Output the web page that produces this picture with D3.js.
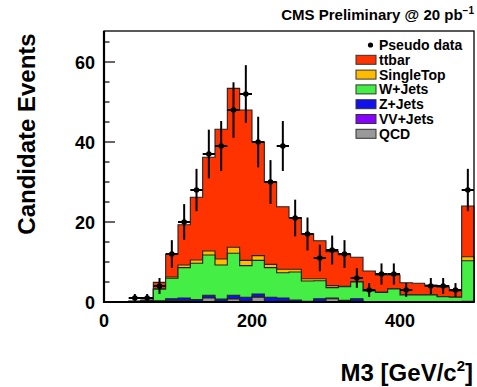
<!DOCTYPE html>
<html>
<head>
<meta charset="utf-8">
<script src="https://cdn.jsdelivr.net/npm/d3@7"></script>
<style>
  body { margin: 0; background: #fff; }
  text { font-family: "Liberation Sans", Arial, Helvetica, sans-serif; }
</style>
</head>
<body>
<div id="chart"></div>
<script>
// M3 distribution, 30 bins of 500/30 GeV, last bin holds overflow
const nBins = 30;
const xMax = 500;

const ttbar     = [0, 0, 0, 0, 1.6, 5.7, 10.05, 15.7, 23.45, 32.45, 39.7, 37.6, 28.4, 20.6, 15.6, 12.9, 11.2, 9.5, 8.5, 7.9, 6.1, 4.95, 4.3, 3.45, 3.0, 2.9, 2.45, 2.35, 1.5, 12.7];
const singleTop = [0, 0, 0, 0, 0.1, 0.3, 0.65, 0.8, 1.0, 1.5, 1.5, 1.3, 1.2, 0.8, 0.9, 0.7, 0.55, 0.5, 0.5, 0.1, 0.1, 0.05, 0.05, 0.05, 0.05, 0.05, 0.05, 0.05, 0.05, 1.0];
const wJets     = [0, 0, 0.2, 0.3, 2.9, 5.15, 7.6, 9.1, 10.05, 8.5, 10.5, 7.9, 8.4, 7.4, 6.3, 7.0, 5.1, 4.5, 2.6, 3.4, 4.2, 2.65, 2.3, 3.15, 1.7, 1.7, 1.7, 1.25, 1.15, 10.1];
const zJets     = [0, 0, 0, 0.1, 0.2, 0.45, 0.65, 0.5, 0.65, 0.55, 0.9, 0.95, 0.75, 1.05, 0.8, 0.4, 0.1, 0.65, 0.2, 0.3, 0.6, 0.1, 0.1, 0.1, 0.05, 0.05, 0.05, 0.05, 0.05, 0.15];
const vvJets    = [0, 0, 0, 0, 0, 0.05, 0.05, 0, 0.05, 0.05, 0.05, 0.05, 0.05, 0.05, 0, 0, 0, 0.05, 0, 0, 0, 0, 0, 0, 0, 0, 0, 0, 0, 0];
const qcd       = [0, 0, 0, 0, 0.1, 0.3, 0.3, 0.1, 1.0, 0.15, 0.75, 0.2, 1.2, 0.1, 0.2, 0.1, 0.05, 0.1, 0.8, 0.1, 0.2, 0, 0, 0, 0, 0, 0, 0, 0, 0.05];
const pseudoData = [0, 0, 1, 1, 4, 12, 20, 28, 37, 39, 48, 52, 40, 30, 39, 21, 17, 11, 13, 12, 6, 3, 7, 7, 3, 0, 4, 4, 3, 28];

const labels = ['ttbar', 'SingleTop', 'W+Jets', 'Z+Jets', 'VV+Jets', 'QCD'];
const colors = ['#ff3300', '#ffbb00', '#44ee44', '#1111ee', '#8800ff', '#999999'];
const yTicks = [0, 20, 40, 60];
const xTicks = [0, 200, 400];

const W = 477, H = 387;
const svg = d3.select('#chart').append('svg')
    .attr('width', W)
    .attr('height', H);

const x = d3.scaleLinear().domain([0, xMax]).range([104, 474]);
const y = d3.scaleLinear().domain([0, 67.75]).range([302, 31]);
const bw = xMax / nBins;

// stack: bottom is QCD, top is ttbar (drawn from the top one down, like a THStack)
const comps = [ttbar, singleTop, wJets, zJets, vvJets, qcd];
const bottomUp = comps.slice().reverse();
const cumul = [];
let run = new Array(nBins).fill(0);
bottomUp.forEach(c => {
    run = run.map((v, i) => v + c[i]);
    cumul.push(run.slice());
});
cumul.reverse(); // cumul[k] = top of component k

function stepPath(vals) {
    let p = `M${x(0)},${y(0)}`;
    vals.forEach((v, i) => {
        p += `L${x(i * bw)},${y(v)}L${x((i + 1) * bw)},${y(v)}`;
    });
    p += `L${x(xMax)},${y(0)}Z`;
    return p;
}

const hist = svg.append('g');
cumul.forEach((vals, k) => {
    hist.append('path')
        .attr('d', stepPath(vals))
        .attr('fill', colors[k])
        .attr('stroke', '#222')
        .attr('stroke-width', 1.1)
        .attr('stroke-linejoin', 'miter');
});

// pseudo data with sqrt(N) errors
const pts = pseudoData.map((v, i) => ({ i: i, v: v })).filter(d => d.v > 0);
const dg = svg.append('g').attr('stroke', '#000').attr('stroke-width', 2);
pts.forEach(d => {
    const cx = x((d.i + 0.5) * bw);
    const e = Math.sqrt(d.v);
    dg.append('line')
        .attr('x1', cx).attr('x2', cx)
        .attr('y1', y(d.v - e)).attr('y2', y(d.v + e));
    dg.append('line')
        .attr('x1', x(d.i * bw)).attr('x2', x((d.i + 1) * bw))
        .attr('y1', y(d.v)).attr('y2', y(d.v));
});
svg.append('g').selectAll('circle')
    .data(pts)
    .enter().append('circle')
    .attr('cx', d => x((d.i + 0.5) * bw))
    .attr('cy', d => y(d.v))
    .attr('r', 2.8)
    .attr('fill', '#000');

// frame
svg.append('rect')
    .attr('x', x(0)).attr('y', y.range()[1])
    .attr('width', x(xMax) - x(0))
    .attr('height', y(0) - y.range()[1])
    .attr('fill', 'none')
    .attr('stroke', '#000')
    .attr('stroke-width', 1.3);
svg.append('line')
    .attr('x1', x(0)).attr('x2', x(0))
    .attr('y1', y.range()[1]).attr('y2', y(0) + 1)
    .attr('stroke', '#000').attr('stroke-width', 2.2);
svg.append('line')
    .attr('x1', x(0) - 1).attr('x2', x(xMax))
    .attr('y1', y(0)).attr('y2', y(0))
    .attr('stroke', '#000').attr('stroke-width', 2.2);

// y ticks, major every 20, minor every 5
const ax = svg.append('g');
d3.range(0, 67, 5).forEach(v => {
    const major = v % 20 === 0;
    ax.append('line')
        .attr('x1', x(0)).attr('x2', x(0) + (major ? 11 : 5.5))
        .attr('y1', y(v)).attr('y2', y(v))
        .attr('stroke', '#000').attr('stroke-width', 1.2);
});
ax.selectAll('.ylab')
    .data(yTicks)
    .enter().append('text')
    .attr('x', 95)
    .attr('y', d => y(d) + 6.5)
    .attr('text-anchor', 'end')
    .attr('font-size', 18)
    .attr('font-weight', 'bold')
    .text(d => d);
ax.selectAll('.xlab')
    .data(xTicks)
    .enter().append('text')
    .attr('x', d => x(d))
    .attr('y', 327)
    .attr('text-anchor', 'middle')
    .attr('font-size', 18)
    .attr('font-weight', 'bold')
    .text(d => d);

// axis titles
svg.append('text')
    .attr('transform', 'translate(35,134) rotate(-90)')
    .attr('text-anchor', 'middle')
    .attr('font-size', 24)
    .attr('font-weight', 'bold')
    .text('Candidate Events');

const xt = svg.append('text')
    .attr('x', 473)
    .attr('y', 381)
    .attr('text-anchor', 'end')
    .attr('font-size', 24)
    .attr('font-weight', 'bold');
xt.append('tspan').text('M3 [GeV/c');
xt.append('tspan').attr('dy', -10).attr('font-size', 15).text('2');
xt.append('tspan').attr('dy', 10).text(']');

const title = svg.append('text')
    .attr('x', 474)
    .attr('y', 20)
    .attr('text-anchor', 'end')
    .attr('font-size', 15)
    .attr('font-weight', 'bold');
title.append('tspan').text('CMS Preliminary @ 20 pb');
title.append('tspan').attr('dy', -6).attr('font-size', 10).text('\u22121');

// legend
const lg = svg.append('g');
const rowY = i => 45 + i * 14.8;
lg.append('circle').attr('cx', 370.5).attr('cy', rowY(0)).attr('r', 2.6).attr('fill', '#000');
lg.append('text')
    .attr('x', 379).attr('y', rowY(0) + 5)
    .attr('font-size', 14)
    .attr('font-weight', 'bold')
    .text('Pseudo data');
labels.forEach((l, k) => {
    const cy = rowY(k + 1);
    lg.append('rect')
        .attr('x', 356).attr('y', cy - 4.5)
        .attr('width', 20).attr('height', 9)
        .attr('fill', colors[k])
        .attr('stroke', '#333').attr('stroke-width', 1);
    lg.append('text')
        .attr('x', 379).attr('y', cy + 5)
        .attr('font-size', 14)
        .attr('font-weight', 'bold')
        .text(l);
});
</script>
</body>
</html>
